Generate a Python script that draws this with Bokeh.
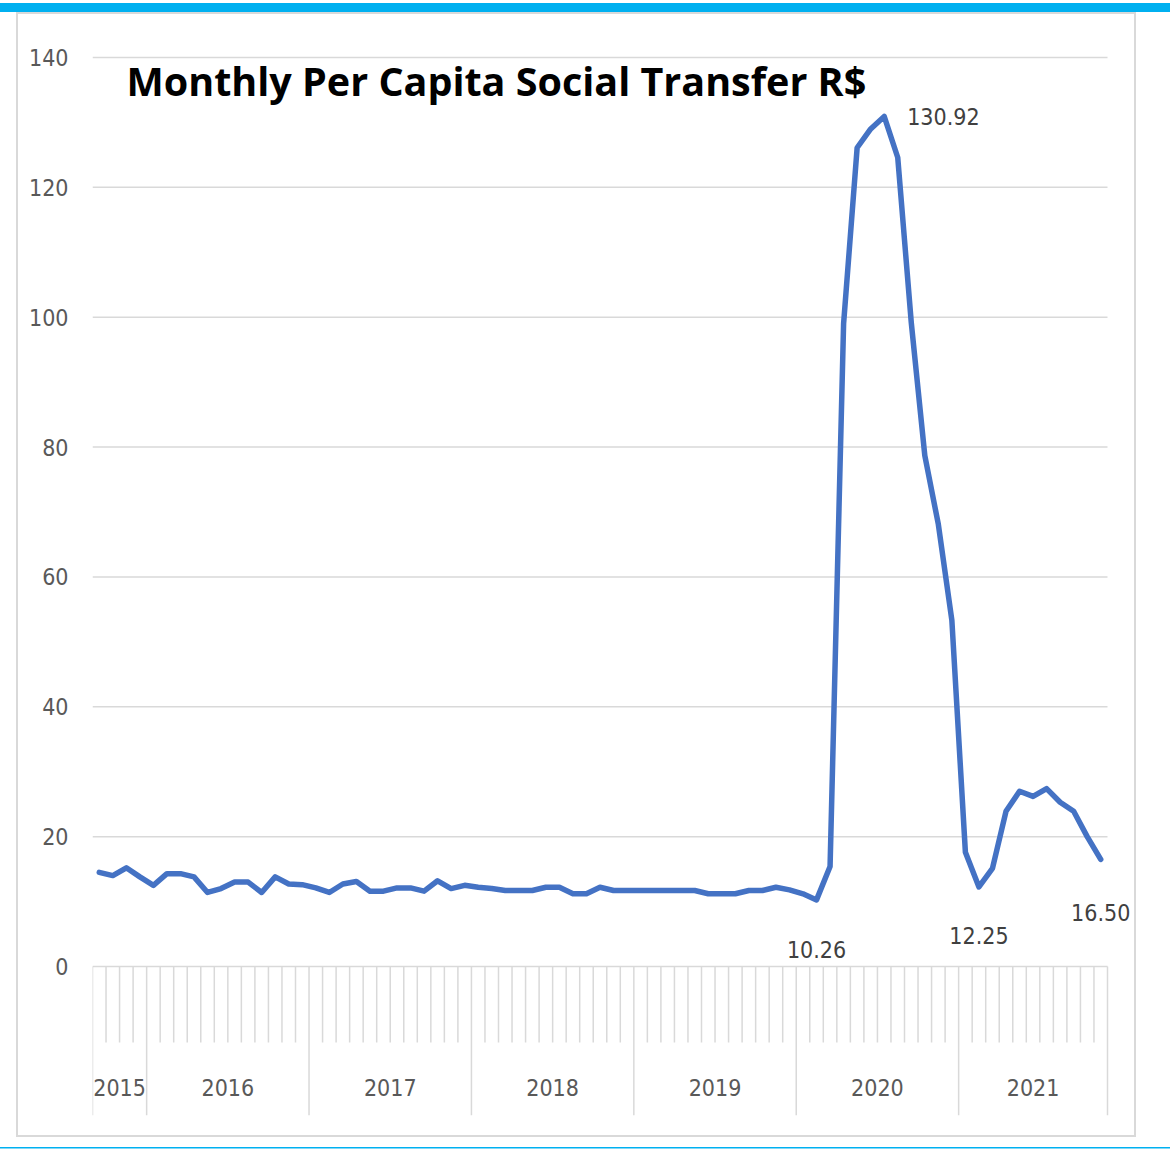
from bokeh.plotting import figure
from bokeh.models import FixedTicker, Label, LabelSet, ColumnDataSource, Range1d
from bokeh.core.properties import value
from bokeh.embed import file_html
from bokeh.resources import INLINE

# ---- data ----
years = [2015, 2016, 2017, 2018, 2019, 2020, 2021]
months_per_year = [4, 12, 12, 12, 12, 12, 11]   # Sep 2015 .. Nov 2021
values = [
    14.5, 14.0, 15.2, 13.8,                                                    # 2015 Sep-Dec
    12.5, 14.3, 14.3, 13.8, 11.4, 12.0, 13.0, 13.0, 11.4, 13.8, 12.7, 12.6,    # 2016
    12.1, 11.4, 12.7, 13.1, 11.6, 11.6, 12.1, 12.1, 11.6, 13.2, 12.0, 12.5,    # 2017
    12.2, 12.0, 11.7, 11.7, 11.7, 12.2, 12.2, 11.2, 11.2, 12.2, 11.7, 11.7,    # 2018
    11.7, 11.7, 11.7, 11.7, 11.7, 11.2, 11.2, 11.2, 11.7, 11.7, 12.2, 11.8,    # 2019
    11.2, 10.26, 15.4, 99.0, 126.1, 129.0, 130.92, 124.6, 99.2, 78.7, 68.1, 53.3,  # 2020
    17.6, 12.25, 15.1, 23.9, 27.0, 26.2, 27.4, 25.3, 23.9, 20.0, 16.50,        # 2021
]
y_ticks = [0, 20, 40, 60, 80, 100, 120, 140]
labelled_idx = [58, 53, 65, 74]
title_text = "Monthly Per Capita Social Transfer R$"

# ---- layout constants (pixels) ----
W, H = 1170, 1149
LEFT, TOP, BOTTOM = 92, 40, 34
CAT_W = 1015                      # width occupied by the month categories
FRAME_W = W - LEFT
FRAME_H = H - TOP - BOTTOM
PX_PER_UNIT = 909 / 140.0

n = len(values)
xs = list(range(n))
x_end = -0.5 + n * FRAME_W / CAT_W
y_max = 140 + (57 - TOP) / PX_PER_UNIT
y_min = y_max - FRAME_H / PX_PER_UNIT

LINE = "#4472c4"
GRID = "#d9d9d9"
TICK_TXT = "#595959"
LBL_TXT = "#404040"
NARROW = "DejaVu Sans Condensed, Roboto, sans-serif"
FS = "23px"

g = "linear-gradient({c},{c}) {x}px {y}px / {w} {h}px no-repeat"
bg = ", ".join([
    g.format(c="#00b0f0", x=0, y=3, w="100%", h=9),
    g.format(c="#00b0f0", x=0, y=1147, w="100%", h=1.5),
    g.format(c=GRID, x=16, y=12, w="1120px", h=2),
    g.format(c=GRID, x=16, y=1135, w="1120px", h=2),
    g.format(c=GRID, x=16, y=12, w="2px", h=1125),
    g.format(c=GRID, x=1134, y=12, w="2px", h=1125),
]) + ", #ffffff"

p = figure(frame_width=FRAME_W, frame_height=FRAME_H,
           min_border_left=LEFT, min_border_right=0, min_border_top=TOP, min_border_bottom=BOTTOM,
           x_range=Range1d(-0.5, x_end), y_range=Range1d(y_min, y_max),
           x_axis_location=None, toolbar_location=None, output_backend="svg",
           background_fill_color=None, border_fill_color=None,
           styles={"background": bg})
p.outline_line_color = None
p.xgrid.visible = False
p.ygrid.visible = False

ax = p.yaxis[0]
ax.ticker = FixedTicker(ticks=y_ticks)
ax.axis_line_color = None
ax.major_tick_line_color = None
ax.minor_tick_line_color = None
ax.major_tick_in = 0
ax.major_tick_out = 0
ax.major_label_standoff = 24
ax.major_label_text_font = NARROW
ax.major_label_text_font_size = FS
ax.major_label_text_color = TICK_TXT

# horizontal gridlines over the category span
p.segment(x0=[-0.5] * len(y_ticks), y0=y_ticks, x1=[n - 0.5] * len(y_ticks), y1=y_ticks,
          line_color=GRID, line_width=1.5)

# category axis separators (month ticks and year boundaries)
bounds_year = [-0.5]
acc = 0
for m in months_per_year:
    acc += m
    bounds_year.append(acc - 0.5)
month_bounds = [b - 0.5 for b in range(1, n) if (b - 0.5) not in bounds_year]
p.segment(x0=month_bounds, y0=[0] * len(month_bounds), x1=month_bounds,
          y1=[-11.7] * len(month_bounds), line_color=GRID, line_width=1.5)
p.segment(x0=bounds_year, y0=[0] * len(bounds_year), x1=bounds_year,
          y1=[y_min] * len(bounds_year), line_color=GRID, line_width=1.5)

# year labels
year_centers = [(bounds_year[k] + bounds_year[k + 1]) / 2 for k in range(len(years))]
ysrc = ColumnDataSource(dict(x=year_centers, y=[-18.64] * len(years), t=[str(y) for y in years]))
p.add_layout(LabelSet(x="x", y="y", text="t", source=ysrc, text_align="center",
                      text_baseline="middle", text_font=value(NARROW), text_font_size=value(FS),
                      text_color=TICK_TXT))

# series line
p.line(xs, values, line_color=LINE, line_width=5.5, line_join="round", line_cap="round")

# data labels
offsets = {58: (23, 0, "left"), 53: (0, -50, "center"), 65: (0, -49, "center"), 74: (0, -53, "center")}
for i in labelled_idx:
    dx, dy, al = offsets[i]
    p.add_layout(Label(x=i, y=values[i], text=f"{values[i]:.2f}", x_offset=dx, y_offset=dy,
                       text_align=al, text_baseline="middle", text_font=NARROW,
                       text_font_size=FS, text_color=LBL_TXT))

# title
p.add_layout(Label(x=126 - LEFT, y=(H - BOTTOM) - 80, x_units="screen", y_units="screen",
                   text=title_text, text_font="Open Sans", text_font_style="bold",
                   text_font_size="39.5px", text_color="black", text_baseline="alphabetic"))

open("out.html", "w").write(file_html(p, INLINE))
